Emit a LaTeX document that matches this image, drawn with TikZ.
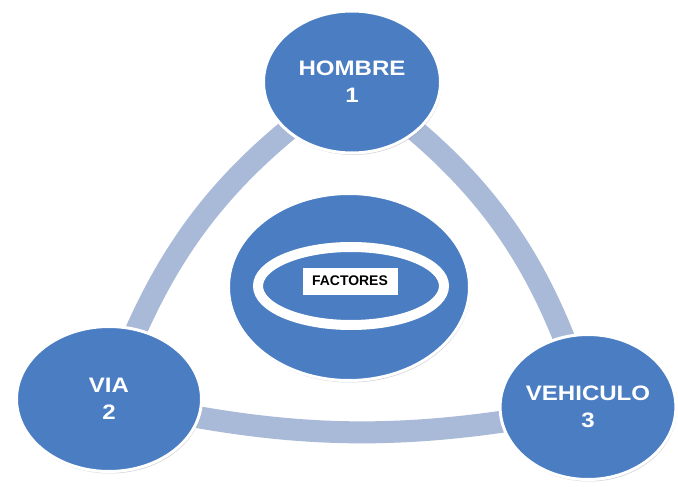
\documentclass[tikz,border=0pt]{standalone}
\usepackage{fontspec}
\setmainfont{Liberation Sans}
\newfontfamily\labfont[FakeStretch=1.15]{Liberation Sans}
\usetikzlibrary{shapes.geometric,shadows,backgrounds}
\definecolor{nodeblue}{HTML}{4A7DC2}
\definecolor{bandblue}{HTML}{A8BAD7}
\begin{document}
\begin{tikzpicture}[x=1bp,y=-1bp,
  softshadow/.style={drop shadow={shadow xshift=1bp, shadow yshift=-2bp, opacity=0.3, fill=black!55}},
  factor/.style={ellipse, fill=nodeblue, draw=white, line width=3bp, inner sep=0pt,
    text=white, align=center, softshadow,
    font=\labfont\bfseries\fontsize{21}{27}\selectfont},
  ring/.style={ellipse, fill=nodeblue, draw=white, line width=10bp, inner sep=0pt,
    drop shadow={shadow xshift=1bp, shadow yshift=-3bp, opacity=0.35, fill=black!70}},
  tag/.style={fill=white, inner sep=0pt, minimum width=95bp, minimum height=27bp,
    font=\bfseries\fontsize{14}{14}\selectfont},
  band/.style={draw=bandblue, line width=22bp}]
\useasboundingbox (0,0) rectangle (678,487);

% the three factors and the centre
\node[factor, minimum width=177bp, minimum height=142bp] (hombre) at (352,82) {HOMBRE\\1};
\node[factor, minimum width=185bp, minimum height=145bp] (via) at (109,399) {VIA\\2};
\node[factor, minimum width=175bp, minimum height=145bp] (vehiculo) at (588,407) {VEHICULO\\3};
\node[factor, minimum width=241bp, minimum height=187bp] (centro) at (349,287) {};
\node[ring, minimum width=186bp, minimum height=78bp] (anillo) at (351,286) {};
\node[tag] (factores) at (350,281) {FACTORES};

% curved bands joining the factors, behind everything
\begin{scope}[on background layer]
  \fill[white] (0,0) rectangle (678,487);
  \draw[band] (hombre.center) to[bend right=18] (via.center);
  \draw[band] (hombre.center) to[bend left=19] (vehiculo.center);
  \draw[band] (via.center) to[bend right=12] (vehiculo.center);
\end{scope}
\end{tikzpicture}
\end{document}
